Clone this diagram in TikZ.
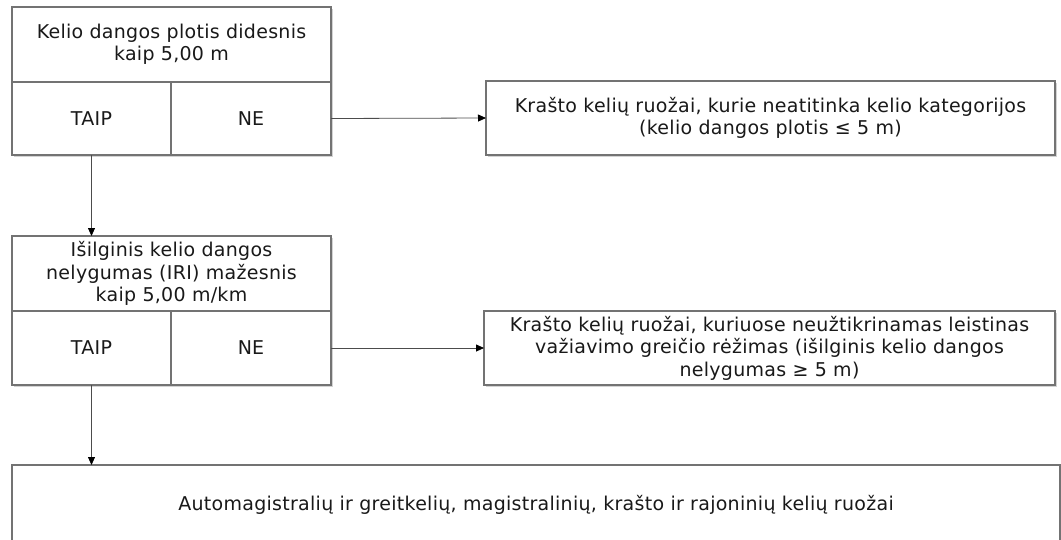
\documentclass[tikz,border=0pt]{standalone}
\usepackage{fontspec}
\setmainfont{DejaVu Sans}[LetterSpace=1.5]
\usetikzlibrary{arrows.meta,shadows}
\begin{document}
\begin{tikzpicture}
		[x=1pt,y=-1pt,
		Box/.style={rectangle,draw=black!55,fill=white,line width=1.4pt,inner sep=0pt,outer sep=0pt,
			align=center,text=black!90,font=\fontsize{19}{22.5}\selectfont,
			drop shadow={shadow xshift=2.2pt,shadow yshift=-2.2pt,opacity=0.35}},
		Link/.style={draw=black!70,line width=0.8pt,-{Triangle[length=8pt,width=7pt,color=black]}}]

		\useasboundingbox (0,0) rectangle (1061,539);

		% pirmas klausimas
		\node[Box,minimum width=319pt,minimum height=75pt] (q_1) at (171.5,44.5)
			{Kelio dangos plotis didesnis\\kaip 5,00 m};
		\node[Box,minimum width=159pt,minimum height=73pt] (taip_1) at (91.5,118.5){TAIP};
		\node[Box,minimum width=160pt,minimum height=73pt] (ne_1) at (251,118.5){NE};

		% antras klausimas
		\node[Box,minimum width=319pt,minimum height=75pt] (q_2) at (171.5,273.5)
			{Išilginis kelio dangos\\nelygumas (IRI) mažesnis\\kaip 5,00 m/km};
		\node[Box,minimum width=159pt,minimum height=74pt] (taip_2) at (91.5,348){TAIP};
		\node[Box,minimum width=160pt,minimum height=74pt] (ne_2) at (251,348){NE};

		% atsakymai NE
		\node[Box,minimum width=569pt,minimum height=74pt] (r_1) at (770.5,118)
			{Krašto kelių ruožai, kurie neatitinka kelio kategorijos\\(kelio dangos plotis ≤ 5 m)};
		\node[Box,minimum width=571pt,minimum height=74pt] (r_2) at (769.5,348)
			{Krašto kelių ruožai, kuriuose neužtikrinamas leistinas\\važiavimo greičio rėžimas (išilginis kelio dangos\\nelygumas ≥ 5 m)};

		% galutinis
		\node[Box,minimum width=1048pt,minimum height=80pt] (fin) at (536,505)
			{Automagistralių ir greitkelių, magistralinių, krašto ir rajoninių kelių ruožai};

		% rodyklės
		\foreach \x in {1,2}
		\draw[Link](ne_\x.east)--(r_\x.west);
		\draw[Link](taip_1.south)--(taip_1.south |- q_2.north);
		\draw[Link](taip_2.south)--(taip_2.south |- fin.north);

	\end{tikzpicture}
\end{document}
